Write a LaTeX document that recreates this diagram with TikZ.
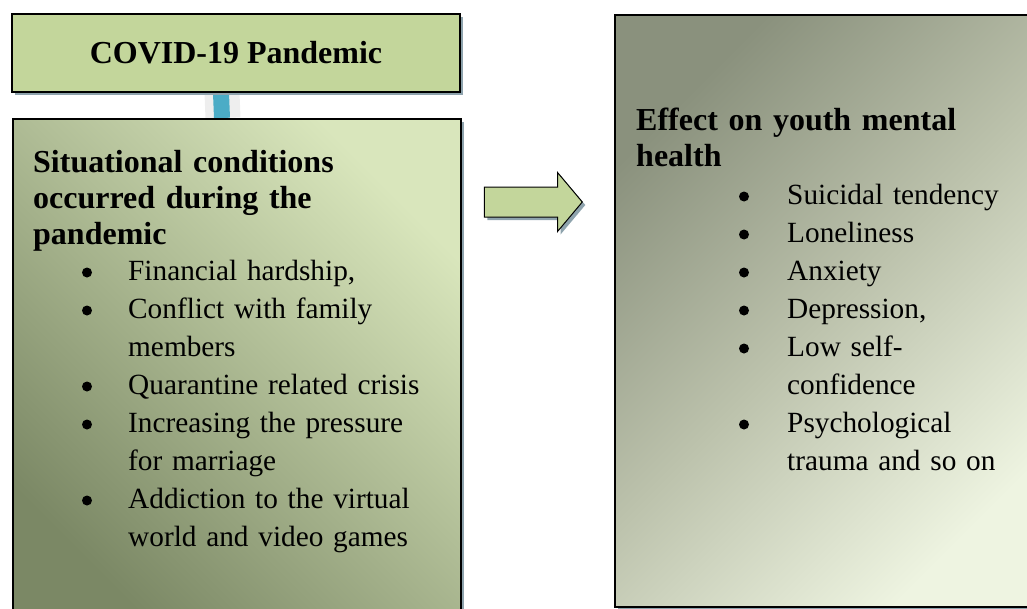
\documentclass[tikz,border=0pt]{standalone}
\usepackage{fontspec}
\setmainfont{Liberation Serif}
\usepackage{xcolor}
\usetikzlibrary{shapes,arrows,positioning,shadows,backgrounds,calc}

\definecolor{olivebox}{HTML}{C3D69B}
\definecolor{olivedark}{HTML}{7B8865}
\definecolor{olivelight}{HTML}{D9E6BC}
\definecolor{greydark}{HTML}{8A917D}
\definecolor{greymid}{HTML}{BCC2AC}
\definecolor{greylight}{HTML}{EEF4E1}
\definecolor{shadowblue}{HTML}{8EA3AD}
\definecolor{linkblue}{HTML}{4BACC6}
\definecolor{linkgrey}{HTML}{EEEEEE}

\newcommand{\headfont}{\fontsize{32pt}{36pt}\selectfont\bfseries}
\newcommand{\listfont}{\fontsize{29.3pt}{38pt}\selectfont}

\begin{document}
\begin{tikzpicture}[
    x=1pt, y=-1pt,
    box/.style={rectangle, draw=black, line width=2pt, inner sep=0pt,
        drop shadow={shadow xshift=3pt, shadow yshift=-3pt, fill=shadowblue, opacity=1}},
    heading/.style={anchor=base west, inner sep=0pt, text width=440pt, align=left, font=\headfont},
    list/.style={anchor=base west, inner sep=0pt, text width=400pt, align=left, font=\listfont},
    dot/.style={fill=black},
    flow/.style={single arrow, draw=black, line width=1pt, fill=olivebox,
        inner xsep=0pt, inner ysep=14.5pt, minimum height=98pt,
        single arrow head extend=14.5pt, single arrow tip angle=100,
        drop shadow={shadow xshift=3pt, shadow yshift=-3pt, fill=shadowblue, opacity=1}}
]
\useasboundingbox (0,0) rectangle (1027,608);
\clip (0,0) rectangle (1027,608);

\node[box, fill=olivebox, minimum width=448pt, minimum height=78pt, font=\headfont] (covid) at (236,53) {COVID-19 Pandemic};

\node[box, anchor=north west, minimum width=448pt, minimum height=510pt,
    bottom color=olivedark, top color=olivelight, shading angle=-45] (situ) at (12,118) {};

\node[box, anchor=north west, minimum width=430pt, minimum height=592pt,
    top color=greydark, bottom color=greylight, middle color=greymid, shading angle=45] (effect) at (614,14) {};

\node[flow] (arrow) at (527,202) {};

\begin{scope}[on background layer]
\draw[line width=35pt, linkgrey] ([xshift=-14pt]covid.south) -- ([xshift=-14pt]situ.north);
\draw[line width=16pt, linkblue] ([xshift=-15pt]covid.south) -- ([xshift=-15pt]situ.north);
\end{scope}

\node[heading] (situhead) at (33,172) {
    Situational conditions\\
    occurred during the\\
    pandemic
};

\node[list] (situlist) at (128,280) {
    Financial hardship,\\
    Conflict with family\\
    members\\
    Quarantine related crisis\\
    Increasing the pressure\\
    for marriage\\
    Addiction to the virtual\\
    world and video games
};

\node[heading] (effhead) at (636,130) {
    Effect on youth mental\\
    health
};

\node[list] (efflist) at (787,204) {
    Suicidal tendency\\
    Loneliness\\
    Anxiety\\
    Depression,\\
    Low self-\\
    confidence\\
    Psychological\\
    trauma and so on
};

% bullets
\foreach \k in {0,1,3,4,6}
    \fill[dot] ($(situlist.base west)+(-41,38*\k-7.5)$) circle (5pt);
\foreach \k in {0,1,2,3,4,6}
    \fill[dot] ($(efflist.base west)+(-43,38*\k-7.5)$) circle (5pt);

\end{tikzpicture}
\end{document}
